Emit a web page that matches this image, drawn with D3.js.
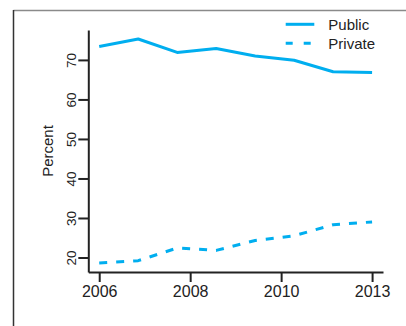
<!DOCTYPE html>
<html>
<head>
<meta charset="utf-8">
<script src="https://cdn.jsdelivr.net/npm/d3@7"></script>
<style>
  html, body { margin: 0; padding: 0; background: #fff; }
  svg { display: block; font-family: "Liberation Sans", Arial, Helvetica, sans-serif; }
</style>
</head>
<body>
<svg id="chart" width="406" height="326"></svg>
<script>
// Share of enrolment, public vs private, one observation per period
const periods = [0, 1, 2, 3, 4, 5, 6, 7];
const publicShare  = [73.4, 75.3, 71.9, 72.9, 71.0, 69.9, 67.0, 66.8];
const privateShare = [18.6, 19.2, 22.4, 21.8, 24.3, 25.5, 28.3, 29.0];
const yTicks = [20, 30, 40, 50, 60, 70];
const xTickLabels = ["2006", "2008", "2010", "2013"];
const seriesNames = ["Public", "Private"];

const color = "#00aeef";
const ink = "#222";
const svg = d3.select("#chart");

// outer frame
svg.append("line").attr("x1", 13.5).attr("x2", 406).attr("y1", 10.5).attr("y2", 10.5)
  .attr("stroke", "#8a8a8a").attr("stroke-width", 1.5);
svg.append("line").attr("x1", 13.5).attr("x2", 13.5).attr("y1", 10).attr("y2", 326)
  .attr("stroke", "#333").attr("stroke-width", 1.5);

// plot region with a 4% pad on each side of the data range
const plot = { left: 88.3, right: 383, top: 30, bottom: 272 };
const pad = (lo, hi) => { const e = (hi - lo) * 0.04; return [lo - e, hi + e]; };

const xExt = d3.extent(periods);
const x = d3.scaleLinear().domain(pad(xExt[0], xExt[1])).range([plot.left, plot.right]);
const yExt = d3.extent(publicShare.concat(privateShare));
const y = d3.scaleLinear().domain(pad(yExt[0], yExt[1])).range([plot.bottom, plot.top]);

// x tick positions: labels spread evenly across the observed periods
const xTickPos = xTickLabels.map((_, i) => xExt[0] + i * (xExt[1] - xExt[0]) / (xTickLabels.length - 1));

const xAxis = d3.axisBottom(x).tickValues(xTickPos)
  .tickFormat((d, i) => xTickLabels[i]).tickSizeInner(10).tickSizeOuter(0);
const gx = svg.append("g").attr("transform", `translate(0,${plot.bottom})`).call(xAxis);
gx.select(".domain").attr("stroke", ink).attr("stroke-width", 2);
gx.selectAll(".tick line").attr("stroke", ink).attr("stroke-width", 2);
gx.selectAll(".tick text").attr("fill", ink).attr("font-size", 16)
  .attr("font-family", "Liberation Sans, Arial, sans-serif")
  .attr("dy", null).attr("y", 24.8);

const yAxis = d3.axisLeft(y).tickValues(yTicks).tickSizeInner(10).tickSizeOuter(0);
const gy = svg.append("g").attr("transform", `translate(${plot.left},0)`).call(yAxis);
gy.select(".domain").attr("stroke", ink).attr("stroke-width", 2);
gy.selectAll(".tick line").attr("stroke", ink).attr("stroke-width", 2);
gy.selectAll(".tick text").attr("fill", ink).attr("font-size", 13.5)
  .attr("font-family", "Liberation Sans, Arial, sans-serif")
  .attr("x", null).attr("dy", null)
  .attr("text-anchor", "middle")
  .attr("transform", "translate(-12.3,0) rotate(-90)");

// y axis title
svg.append("text").attr("transform", "translate(53.3,151) rotate(-90)")
  .attr("text-anchor", "middle").attr("font-size", 15).attr("fill", ink).text("Percent");

// series lines
const line = d3.line().x((d, i) => x(periods[i])).y(d => y(d));
svg.append("path").datum(publicShare).attr("d", line)
  .attr("fill", "none").attr("stroke", color).attr("stroke-width", 3)
  .attr("stroke-linejoin", "round");
svg.append("path").datum(privateShare).attr("d", line)
  .attr("fill", "none").attr("stroke", color).attr("stroke-width", 3)
  .attr("stroke-dasharray", "8,9").attr("stroke-linejoin", "round");

// legend
const legend = svg.append("g");
seriesNames.forEach((name, i) => {
  const ly = 24.3 + i * 19;
  legend.append("line").attr("x1", 285.7).attr("x2", 314.3).attr("y1", ly).attr("y2", ly)
    .attr("stroke", color).attr("stroke-width", 3)
    .attr("stroke-dasharray", i === 1 ? "7,11" : null);
  legend.append("text").attr("x", 328.3).attr("y", ly + 6).attr("font-size", 15)
    .attr("fill", ink).text(name);
});
</script>
</body>
</html>
